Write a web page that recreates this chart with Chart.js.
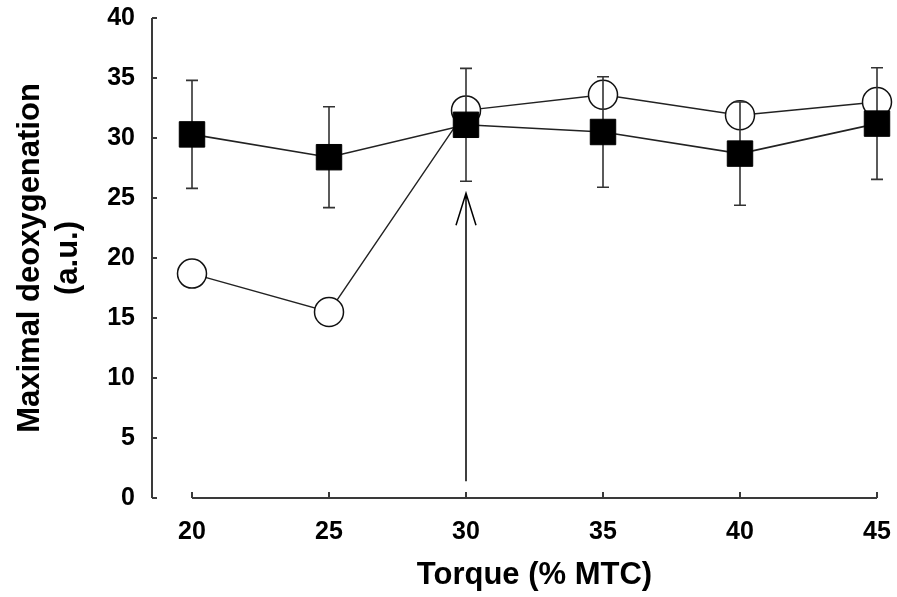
<!DOCTYPE html>
<html>
<head>
<meta charset="utf-8">
<title>Maximal deoxygenation vs torque</title>
<script src="https://cdn.jsdelivr.net/npm/chart.js@4.4.0/dist/chart.umd.min.js"></script>
<style>
html, body { margin: 0; padding: 0; background: #fff; }
canvas { display: block; }
</style>
</head>
<body>
<canvas id="deoxy" width="897" height="597"></canvas>
<script>
// values
var torque = [20, 25, 30, 35, 40, 45];
var squareVals = [30.3, 28.4, 31.1, 30.5, 28.7, 31.2];
var squareErr = [4.5, 4.2, 4.7, 4.6, 4.3, 4.65];
var circleVals = [18.7, 15.5, 32.3, 33.6, 31.9, 33.0];
var xTicks = [20, 25, 30, 35, 40, 45];
var yTicks = [0, 5, 10, 15, 20, 25, 30, 35, 40];
var arrow = [30, 1.4, 25.4]; // at x, from y, to y

var FONT = "'Liberation Sans', Arial, Helvetica, sans-serif";

function pts(vals) {
	return torque.map(function (t, i) { return { x: t, y: vals[i] }; });
}

// axes (y axis sits left of the first category), error bars, arrow
var extras = {
	id: 'extras',
	beforeDatasetsDraw: function (chart) {
		var ctx = chart.ctx, x = chart.scales.x, y = chart.scales.y;
		var area = chart.chartArea;
		var ax = area.left - 40;
		ctx.save();
		ctx.strokeStyle = '#3a3a3a';
		ctx.lineWidth = 2;
		ctx.beginPath();
		ctx.moveTo(ax, y.getPixelForValue(yTicks[0]));
		ctx.lineTo(ax, y.getPixelForValue(yTicks[yTicks.length - 1]));
		yTicks.forEach(function (v) {
			var py = y.getPixelForValue(v);
			ctx.moveTo(ax, py);
			ctx.lineTo(ax + 5, py);
		});
		var by = y.getPixelForValue(0);
		ctx.moveTo(x.getPixelForValue(xTicks[0]), by);
		ctx.lineTo(x.getPixelForValue(xTicks[xTicks.length - 1]), by);
		xTicks.forEach(function (v) {
			var px = x.getPixelForValue(v);
			ctx.moveTo(px, by);
			ctx.lineTo(px, by - 6);
		});
		ctx.stroke();

		// arrow
		var qx = x.getPixelForValue(arrow[0]);
		var tip = y.getPixelForValue(arrow[2]);
		ctx.strokeStyle = '#000';
		ctx.lineWidth = 1.5;
		ctx.beginPath();
		ctx.moveTo(qx, y.getPixelForValue(arrow[1]));
		ctx.lineTo(qx, tip);
		ctx.moveTo(qx - 10, tip + 32);
		ctx.lineTo(qx, tip);
		ctx.lineTo(qx + 10, tip + 32);
		ctx.stroke();
		ctx.restore();
	},
	beforeDatasetDraw: function (chart, args) {
		if (args.index !== 1) return;
		var ctx = chart.ctx, x = chart.scales.x, y = chart.scales.y;
		ctx.save();
		ctx.strokeStyle = '#333';
		ctx.lineWidth = 1.6;
		ctx.beginPath();
		torque.forEach(function (t, i) {
			var px = x.getPixelForValue(t);
			var top = y.getPixelForValue(squareVals[i] + squareErr[i]);
			var bot = y.getPixelForValue(squareVals[i] - squareErr[i]);
			ctx.moveTo(px, top); ctx.lineTo(px, bot);
			ctx.moveTo(px - 6, top); ctx.lineTo(px + 6, top);
			ctx.moveTo(px - 6, bot); ctx.lineTo(px + 6, bot);
		});
		ctx.stroke();
		ctx.restore();
	}
};

var ctx = document.getElementById('deoxy');
var chart = new Chart(ctx, {
	type: 'line',
	data: {
		datasets: [{
			label: 'open',
			data: pts(circleVals),
			order: 2,
			borderColor: '#222',
			borderWidth: 1.4,
			pointStyle: 'circle',
			pointRadius: 14.5,
			pointBackgroundColor: '#fff',
			pointBorderColor: '#111',
			pointBorderWidth: 1.5,
			clip: false
		}, {
			label: 'filled',
			data: pts(squareVals),
			order: 1,
			borderColor: '#222',
			borderWidth: 1.6,
			pointStyle: 'rect',
			pointRadius: 18,
			pointBackgroundColor: '#000',
			pointBorderColor: '#000',
			pointBorderWidth: 1,
			clip: false
		}]
	},
	options: {
		responsive: false,
		animation: false,
		layout: { autoPadding: false, padding: { top: 18, right: 20, left: 0, bottom: 0 } },
		plugins: { legend: { display: false }, tooltip: { enabled: false } },
		scales: {
			x: {
				type: 'linear',
				min: 20, max: 45,
				afterBuildTicks: function (s) { s.ticks = xTicks.map(function (v) { return { value: v }; }); },
				afterFit: function (s) { s.height = 99; s.paddingLeft = 0; s.paddingRight = 0; },
				grid: { display: false, drawTicks: false },
				border: { display: false },
				ticks: { color: '#000', padding: 19, maxRotation: 0, font: { family: FONT, size: 25, weight: 'bold' } },
				title: {
					display: true, text: 'Torque (% MTC)', color: '#000',
					padding: { top: 0, bottom: 3 },
					font: { family: FONT, size: 31, weight: 'bold', lineHeight: 1.2 }
				}
			},
			y: {
				min: 0, max: 40,
				afterBuildTicks: function (s) { s.ticks = yTicks.map(function (v) { return { value: v }; }); },
				afterFit: function (s) { s.width = 192; s.paddingTop = 0; s.paddingBottom = 0; },
				grid: { display: false, drawTicks: false },
				border: { display: false },
				ticks: { color: '#000', padding: 57, font: { family: FONT, size: 25, weight: 'bold' } },
				title: {
					display: true, text: ['Maximal deoxygenation', '(a.u.)'], color: '#000',
					padding: { top: 12, bottom: 0 },
					font: { family: FONT, size: 31, weight: 'bold', lineHeight: 1.22 }
				}
			}
		}
	},
	plugins: [extras]
});
</script>
</body>
</html>
